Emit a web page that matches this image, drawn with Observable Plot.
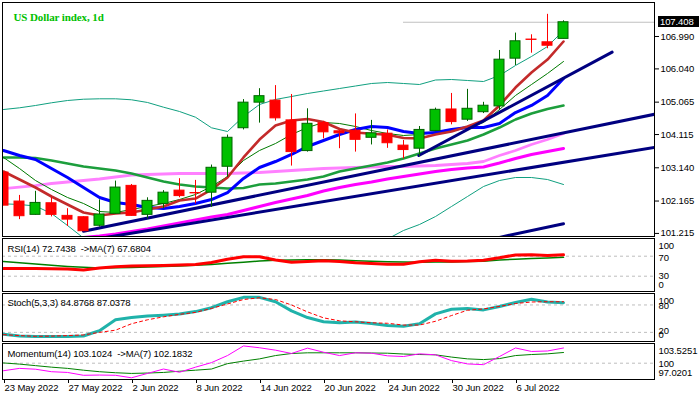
<!DOCTYPE html>
<html><head><meta charset="utf-8">
<script src="https://cdn.jsdelivr.net/npm/d3@7"></script>
<script src="https://cdn.jsdelivr.net/npm/@observablehq/plot@0.6"></script>
<style>
body{margin:0;background:#fff;}
#chart{position:relative;width:699px;height:399px;background:#fff;overflow:hidden;}
#chart svg{position:absolute;left:0;}
#chart svg text{white-space:pre;}
#pricebox{position:absolute;left:658px;width:41px;height:11px;background:#000;color:#fff;font:9.5px "Liberation Sans",Arial,sans-serif;letter-spacing:-0.1px;line-height:11px;padding-left:2px;box-sizing:border-box;}
</style></head><body><div id="chart"></div>
<script>
// ---------- data ----------
const chartTitle = "US Dollar index, 1d";
const dateTickIndex = [0, 4, 8, 12, 16, 20, 24, 28, 32];
const dateTickLabels = ["23 May 2022","27 May 2022","2 Jun 2022","8 Jun 2022","14 Jun 2022","20 Jun 2022","24 Jun 2022","30 Jun 2022","6 Jul 2022"];
const priceTicks = [106.990, 106.040, 105.065, 104.115, 103.140, 102.165, 101.215];
const lastPrice = 107.408;
const priceLineFrom = 25;

const open  = [103.00,102.15,101.76,102.10,101.73,101.69,101.44,101.79,102.61,101.76,102.08,102.47,102.40,102.41,103.17,104.30,105.05,105.11,104.53,103.63,104.45,104.21,104.23,104.02,104.14,103.79,103.70,104.22,104.85,104.55,104.77,104.94,106.34,106.90,106.82,106.92];
const high  = [103.00,102.33,102.45,102.26,101.94,101.70,102.20,102.75,102.65,102.26,102.47,102.82,102.77,103.22,104.10,105.14,105.46,105.55,105.29,104.87,104.50,104.23,104.72,104.53,104.25,103.94,104.35,104.89,105.32,105.44,105.06,106.58,107.09,107.04,107.64,107.45];
const low   = [102.03,101.62,101.75,101.70,101.42,101.27,101.40,101.78,101.72,101.64,101.94,102.26,102.08,101.98,102.86,104.25,104.45,104.51,103.19,103.60,103.99,103.70,103.60,103.81,103.71,103.40,103.47,104.20,104.40,104.50,104.73,104.82,106.14,106.50,106.63,106.92];
const close = [102.03,101.72,102.11,101.76,101.62,101.28,101.77,102.56,101.73,102.17,102.41,102.31,102.39,103.14,104.02,105.05,105.24,104.59,103.60,104.43,104.18,104.15,103.96,104.15,103.86,103.66,104.25,104.84,104.48,104.87,104.96,106.31,106.85,106.89,106.72,107.408];

const maRed = [103.031,102.796,102.562,102.298,102.063,101.829,101.741,101.799,101.829,101.917,102.005,102.181,102.239,102.503,102.855,103.442,103.969,104.380,104.527,104.571,104.483,104.277,104.175,104.137,104.107,104.013,103.999,104.116,104.204,104.351,104.527,104.967,105.494,105.934,106.315,106.843];
const maBlue = [103.647,103.500,103.383,103.119,102.855,102.562,102.269,102.122,102.063,101.975,101.946,102.005,102.093,102.210,102.415,102.826,103.148,103.324,103.530,103.765,103.940,104.116,104.263,104.351,104.321,104.204,104.145,104.175,104.263,104.321,104.321,104.439,104.761,104.967,105.260,105.758];
const maGreenThin = [103.442,103.119,102.767,102.503,102.269,102.093,101.858,101.829,101.917,102.005,102.093,102.210,102.357,102.591,102.884,103.354,103.647,103.852,104.116,104.321,104.468,104.439,104.351,104.233,104.145,104.087,104.116,104.204,104.263,104.321,104.468,104.849,105.260,105.582,105.905,106.257];
const maGreenThick = [103.442,103.442,103.427,103.354,103.266,103.178,103.119,103.060,102.972,102.855,102.738,102.650,102.591,102.562,102.532,102.547,102.650,102.679,102.738,102.796,102.884,103.031,103.119,103.207,103.295,103.412,103.559,103.706,103.823,103.940,104.116,104.321,104.556,104.732,104.864,104.967];
const maViolet = [102.532,102.576,102.620,102.679,102.723,102.767,102.811,102.870,102.928,102.943,102.958,102.972,102.972,102.972,102.972,102.987,103.002,103.031,103.060,103.090,103.119,103.134,103.148,103.163,103.178,103.178,103.192,103.207,103.236,103.266,103.324,103.500,103.647,103.823,103.969,104.145];
const maMagenta = [null,null,null,null,null,101.096,101.140,101.198,101.272,101.345,101.433,101.521,101.609,101.697,101.770,101.887,102.005,102.122,102.225,102.327,102.459,102.562,102.650,102.723,102.811,102.884,102.958,103.031,103.090,103.134,103.163,103.280,103.412,103.530,103.618,103.706];
const bandUpper = [104.849,104.899,104.967,105.046,105.113,105.151,105.163,105.163,105.134,105.055,104.917,104.791,104.623,104.313,104.204,104.644,104.996,105.143,105.230,105.318,105.392,105.465,105.538,105.612,105.641,105.612,105.582,105.714,105.729,105.700,105.670,105.846,106.140,106.404,106.697,107.166];
const bandLower = [102.084,102.063,102.019,101.799,101.448,101.081,null,null,null,null,null,null,null,null,null,null,null,null,null,null,null,null,null,null,101.052,101.301,101.477,101.711,102.005,102.298,102.591,102.767,102.855,102.855,102.796,102.650];

const trendA = [{i: 5.0, p: 101.28}, {i: 40.69, p: 104.71}];
const trendB = [{i: 5.0, p: 100.99}, {i: 40.69, p: 103.74}];
const trendC = [{i: 25.96, p: 103.50}, {i: 38.04, p: 106.53}];
const trendD = [{i: 31.0, p: 101.10}, {i: 35.0, p: 101.50}];

const rsi = [45.5,45.5,45.5,45.0,44.5,42.2,46.5,49.0,50.4,51.0,51.6,52.5,53.5,57.5,64.0,69.0,69.0,62.5,57.8,59.5,61.0,59.5,57.0,55.5,53.7,53.7,59.0,61.8,60.0,60.5,62.0,67.0,72.5,72.9,71.4,72.7438];
const rsiMA = [59.2,57.0,54.3,52.0,49.6,47.8,46.3,46.8,47.5,48.4,49.4,50.6,52.0,53.6,55.7,58.0,60.5,62.0,62.5,62.7,62.7,62.2,61.0,60.0,59.0,58.4,58.0,58.2,58.6,59.2,60.0,62.5,64.0,65.3,66.5,67.6804];
const rsiLevels = [70, 30];
const rsiLabel = "RSI(14) 72.7438  ->MA(7) 67.6804";

const stochMain = [15.7,12.0,10.7,10.7,10.7,12.0,23.7,47.5,52.5,56.0,57.7,60.0,65.5,74.0,87.0,96.7,96.7,87.0,67.0,52.5,43.2,41.0,42.5,39.5,35.0,33.4,39.0,60.5,70.7,72.0,69.2,76.8,85.4,92.3,86.5,84.8768];
const stochSignal = [15.0,12.9,11.3,11.8,12.9,14.4,20.0,24.8,38.8,47.5,54.0,59.4,63.8,72.4,82.2,91.9,95.8,91.9,80.0,64.8,51.8,45.3,43.2,41.0,39.9,36.0,36.0,44.3,56.8,68.5,71.3,76.8,83.2,86.5,87.1,87.0378];
const stochLevels = [80, 20];
const stochLabel = "Stoch(5,3,3) 84.8768 87.0378";

const momentum = [98.46,98.94,98.77,98.26,98.11,97.53,97.58,97.53,97.0201,97.91,98.81,98.15,99.19,100.12,101.56,103.5251,103.15,102.66,101.98,103.07,102.24,101.56,102.12,102.04,101.50,101.36,101.91,101.71,100.53,99.85,99.70,101.36,103.11,102.39,102.49,103.1024];
const momentumMA = [100.05,99.81,99.50,99.19,98.94,98.57,98.26,98.05,97.91,97.99,98.11,98.36,98.57,98.81,99.91,100.43,100.88,101.56,101.98,102.12,102.12,102.12,102.12,102.08,102.04,101.87,101.77,101.71,101.25,100.88,100.74,100.94,101.56,101.77,101.91,102.1832];
const momentumLevels = [100];
const momentumLabel = "Momentum(14) 103.1024  ->MA(7) 102.1832";

// ---------- drawing ----------
const W = 699;
const xDomain = [-0.0625, 40.6875];
const FONT = '"Liberation Sans", Arial, sans-serif';
const bars = close.map((c, i) => ({i, o: open[i], h: high[i], l: low[i], c}));
const upBars = bars.filter(d => d.c >= d.o);
const downBars = bars.filter(d => d.c < d.o);
const half = 0.3125;

function seriesLine(vals, opts) {
  return Plot.line(vals, {x: (d, i) => i, y: d => d, clip: true, ...opts});
}

function panel({top, height, mt, mb, yDomain, marks, xAxis}) {
  const svg = Plot.plot({
    width: W, height,
    marginLeft: 2, marginRight: 45, marginTop: mt, marginBottom: mb,
    x: xAxis ? {domain: xDomain} : {domain: xDomain, axis: null},
    y: {domain: yDomain, axis: null},
    style: {fontFamily: FONT, fontSize: "9.5px", letterSpacing: "-0.1px", color: "black", background: "transparent", overflow: "visible"},
    marks
  });
  svg.style.position = "absolute";
  svg.style.top = top + "px";
  svg.style.left = "0px";
  document.getElementById("chart").append(svg);
  return svg;
}

function rightLabel(value, text, dy) {
  return Plot.text([value], {y: d => d, text: () => text, frameAnchor: "right", textAnchor: "start", dx: 4, dy, lineAnchor: "middle", fill: "black", fontSize: 9.5});
}

function levelRules(levels) {
  return Plot.ruleY(levels, {stroke: "#bdbdbd", strokeDasharray: "3,3"});
}

function frame() {
  return Plot.frame({stroke: "black", shapeRendering: "crispEdges"});
}

// main price panel
const mainSvg = panel({
  top: 0, height: 237, mt: 2, mb: 1,
  yDomain: [101.125, 107.987],
  marks: [
    seriesLine(bandUpper, {stroke: "#10a080", strokeWidth: 1}),
    seriesLine(bandLower, {stroke: "#10a080", strokeWidth: 1}),
    seriesLine(maViolet, {stroke: "#ff80ff", strokeWidth: 2.8}),
    seriesLine(maMagenta, {stroke: "#ff00ff", strokeWidth: 3}),
    seriesLine(maGreenThick, {stroke: "#1c9e3c", strokeWidth: 2.5}),
    seriesLine(maGreenThin, {stroke: "#007a00", strokeWidth: 1}),
    seriesLine(maBlue, {stroke: "#0000ff", strokeWidth: 3}),
    seriesLine(maRed, {stroke: "#c32a2a", strokeWidth: 2.6}),
    Plot.line(trendA, {x: "i", y: "p", stroke: "#000080", strokeWidth: 3, clip: true}),
    Plot.line(trendB, {x: "i", y: "p", stroke: "#000080", strokeWidth: 3, clip: true}),
    Plot.line(trendC, {x: "i", y: "p", stroke: "#000080", strokeWidth: 3, clip: true}),
    Plot.line(trendD, {x: "i", y: "p", stroke: "#000080", strokeWidth: 3, clip: true}),
    Plot.ruleY([lastPrice], {x1: priceLineFrom, x2: xDomain[1], stroke: "#c0c0c0", strokeWidth: 1}),
    Plot.ruleX(upBars, {x: "i", y1: "l", y2: "h", stroke: "#006400", strokeWidth: 1, clip: true}),
    Plot.ruleX(downBars, {x: "i", y1: "l", y2: "h", stroke: "#ff0000", strokeWidth: 1, clip: true}),
    Plot.rect(upBars, {x1: d => d.i - half, x2: d => d.i + half, y1: "o", y2: "c", fill: "#00c000", stroke: "#006400", strokeWidth: 1, clip: true}),
    Plot.rect(downBars, {x1: d => d.i - half, x2: d => d.i + half, y1: "o", y2: "c", fill: "#ff0000", stroke: "#ff0000", strokeWidth: 1, clip: true}),
    Plot.text([chartTitle], {frameAnchor: "top-left", dx: 11, dy: 15, lineAnchor: "middle", textAnchor: "start", fill: "#00c000", fontFamily: '"Liberation Serif", "DejaVu Serif", serif', fontWeight: "bold", fontSize: 11, letterSpacing: "0px"}),
    frame(),
    Plot.axisY({anchor: "right", ticks: priceTicks, tickFormat: d => d.toFixed(3), tickSize: 4, tickPadding: 2, label: null, fontSize: 9.5})
  ]
});
{
  const ys = mainSvg.scale("y").apply(lastPrice);
  const box = document.createElement("div");
  box.id = "pricebox";
  box.style.top = (ys - 5.5) + "px";
  box.textContent = lastPrice.toFixed(3);
  document.getElementById("chart").append(box);
}

// RSI panel
panel({
  top: 237, height: 55, mt: 1, mb: 1,
  yDomain: [-0.6, 105.4],
  marks: [
    levelRules(rsiLevels),
    seriesLine(rsiMA, {stroke: "#008000", strokeWidth: 1.5}),
    seriesLine(rsi, {stroke: "#ff0000", strokeWidth: 3}),
    Plot.text([rsiLabel], {frameAnchor: "top-left", dx: 5, dy: 10, lineAnchor: "middle", textAnchor: "start", fontSize: 9.5, fill: "black"}),
    frame(),
    rightLabel(100, "100", 5),
    rightLabel(70, "70", 1.5),
    rightLabel(30, "30", 0),
    rightLabel(0, "0", -6)
  ]
});

// Stochastic panel
panel({
  top: 292, height: 50, mt: 1, mb: 1,
  yDomain: [0, 105.1],
  marks: [
    levelRules(stochLevels),
    seriesLine(stochMain, {stroke: "#20b2aa", strokeWidth: 3}),
    seriesLine(stochSignal, {stroke: "#ff0000", strokeWidth: 1, strokeDasharray: "3,3"}),
    Plot.text([stochLabel], {frameAnchor: "top-left", dx: 5, dy: 9, lineAnchor: "middle", textAnchor: "start", fontSize: 9.5, fill: "black"}),
    frame(),
    rightLabel(100, "100", 5),
    rightLabel(80, "80", 1),
    rightLabel(20, "20", -1),
    rightLabel(0, "0", -7)
  ]
});

// Momentum panel with date axis
panel({
  top: 342, height: 57, mt: 1, mb: 20, xAxis: true,
  yDomain: [96.67, 104.02],
  marks: [
    levelRules(momentumLevels),
    seriesLine(momentumMA, {stroke: "#008000", strokeWidth: 1}),
    seriesLine(momentum, {stroke: "#ff00ff", strokeWidth: 1}),
    Plot.text([momentumLabel], {frameAnchor: "top-left", dx: 5, dy: 10, lineAnchor: "middle", textAnchor: "start", fontSize: 9.5, fill: "black"}),
    frame(),
    rightLabel(d3.max(momentum), d3.max(momentum).toFixed(4), 5.3),
    rightLabel(100, "100", 0.6),
    rightLabel(d3.min(momentum), d3.min(momentum).toFixed(4), -5),
    Plot.axisX({anchor: "bottom", ticks: dateTickIndex, tickFormat: d => dateTickLabels[dateTickIndex.indexOf(d)], tickSize: 4, tickPadding: 1, textAnchor: "start", dx: 1, label: null, fontSize: 9.5})
  ]
});
</script></body></html>
